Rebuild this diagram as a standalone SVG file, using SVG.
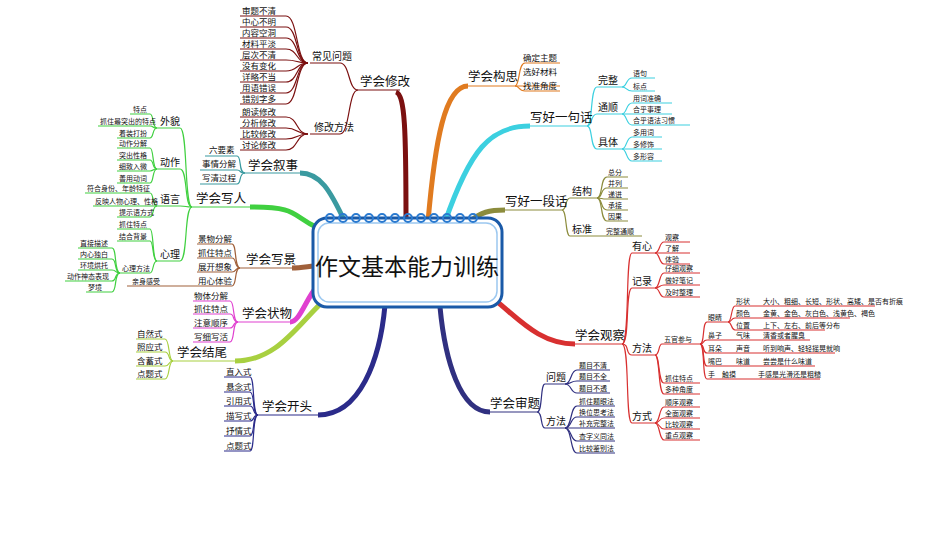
<svg xmlns="http://www.w3.org/2000/svg" width="950" height="535" viewBox="0 0 950 535">
<style>
text{font-family:"Noto Sans CJK SC","Noto Sans",sans-serif;fill:#111}
.l{font-size:8.5px}.t{font-size:7px}.s{font-size:10px}.m{font-size:12.5px}
path{fill:none;stroke-width:1.2}
.xg path{stroke:#7b1010}.gs path{stroke:#e07b20}.yj path{stroke:#3cd0e0}.yd path{stroke:#8c8c3c}
.gc path{stroke:#d83030}.sh path{stroke:#303080}.kt path{stroke:#2b2b8a}.jw path{stroke:#a8d040}
.zw path{stroke:#e040d0}.xj path{stroke:#a0603a}.xr path{stroke:#40d040}.xs path{stroke:#3a9aa0}
.th{stroke-width:5!important}
</style>
<rect width="950" height="535" fill="#fff"/>
<g id="connectors">
<g class="xg"><path class="th" d="M396,92 C405,95 406,130 406,222"/><path d="M358,90 H400"/>
<path d="M358,90 C348,90 350,63 340,63 H310"/><path d="M358,90 C348,90 350,134 340,134 H310"/>
<path d="M308,63 C296,63 298,16 286,16 H240"/><path d="M308,63 C296,63 298,27 286,27 H240"/><path d="M308,63 C296,63 298,38 286,38 H240"/><path d="M308,63 C296,63 298,49 286,49 H240"/><path d="M308,63 C296,63 298,60 286,60 H240"/><path d="M308,63 C296,63 298,71 286,71 H240"/><path d="M308,63 C296,63 298,82 286,82 H240"/><path d="M308,63 C296,63 298,93 286,93 H240"/><path d="M308,63 C296,63 298,104 286,104 H240"/>
<path d="M308,134 C296,134 298,117 286,117 H240"/><path d="M308,134 C296,134 298,128 286,128 H240"/><path d="M308,134 C296,134 298,139 286,139 H240"/><path d="M308,134 C296,134 298,150 286,150 H240"/></g>
<g class="gs"><path class="th" d="M428,222 C435,140 445,86 468,86"/><path d="M465,86 H515"/>
<path d="M515,86 C520,86 518,63 525,63 H560"/><path d="M515,86 H560"/><path d="M515,86 C520,86 518,91 525,91 H560"/></g>
<g class="yj"><path class="th" d="M445,222 C470,150 490,126 530,126"/><path d="M527,126 H587"/>
<path d="M587,126 C593,126 590,87 597,87 H622"/><path d="M587,126 C593,126 590,114 597,114 H622"/><path d="M587,126 C593,126 590,149 597,149 H622"/>
<path d="M622,87 C627,87 626,78 632,78 H655"/><path d="M622,87 C627,87 626,91 632,91 H655"/>
<path d="M622,114 C627,114 626,103 632,103 H672"/><path d="M622,114 H672"/><path d="M622,114 C627,114 626,125 632,125 H690"/>
<path d="M622,149 C627,149 626,137 632,137 H662"/><path d="M622,149 H662"/><path d="M622,149 C627,149 626,161 632,161 H662"/></g>
<g class="yd"><path class="th" d="M470,222 C480,212 490,210 505,210"/><path d="M503,210 H562"/>
<path d="M562,210 C567,210 565,198 570,198 H597"/><path d="M562,210 C567,210 565,236 570,236 H600"/>
<path d="M597,198 C603,198 600,177 607,177 H628"/><path d="M597,198 C603,198 600,188 607,188 H628"/><path d="M597,198 C603,198 600,199 607,199 H628"/><path d="M597,198 C603,198 600,210 607,210 H628"/><path d="M597,198 C603,198 600,221 607,221 H628"/><path d="M600,236 H642"/></g>
<g class="gc"><path class="th" d="M495,300 C520,320 540,344 575,344"/><path d="M572,344 H622"/>
<path d="M622,344 C630,344 625,253 632,253 H655"/><path d="M622,344 C630,344 625,288 632,288 H655"/><path d="M622,344 C630,344 625,355 632,355 H655"/><path d="M622,344 C630,344 625,423 632,423 H655"/>
<path d="M655,253 C660,253 659,242 664,242 H690"/><path d="M655,253 H690"/><path d="M655,253 C660,253 659,264 664,264 H690"/>
<path d="M655,288 C660,288 659,273 664,273 H700"/><path d="M655,288 C660,288 659,285 664,285 H700"/><path d="M655,288 C660,288 659,297 664,297 H700"/>
<path d="M655,355 C660,355 658,344 662,344 H700"/><path d="M655,355 C660,355 658,383 664,383 H700"/><path d="M655,355 C660,355 658,394 664,394 H700"/>
<path d="M700,344 C705,344 702,322 707,322 H728"/><path d="M700,344 C705,344 702,340 707,340 H755"/><path d="M700,344 C705,344 702,353 707,353 H755"/><path d="M700,344 C705,344 702,366 707,366 H755"/><path d="M700,344 C705,344 702,379 707,379 H745"/>
<path d="M728,322 C732,322 731,306 735,306 H760"/><path d="M728,322 C732,322 731,318 735,318 H760"/><path d="M728,322 C732,322 731,330 735,330 H760"/>
<path d="M760,306 H875"/><path d="M760,318 H850"/><path d="M760,330 H825"/><path d="M755,340 H810"/><path d="M755,353 H835"/><path d="M755,366 H815"/><path d="M745,379 H820"/>
<path d="M655,423 C660,423 659,407 664,407 H700"/><path d="M655,423 C660,423 659,418 664,418 H700"/><path d="M655,423 C660,423 659,429 664,429 H700"/><path d="M655,423 C660,423 659,440 664,440 H700"/></g>
<g class="sh"><path class="th" d="M440,307 C445,360 460,412 490,412"/><path d="M488,412 H537"/>
<path d="M537,412 C543,412 540,384 545,384 H565"/><path d="M537,412 C543,412 540,428 545,428 H565"/>
<path d="M565,384 C572,384 570,370 577,370 H610"/><path d="M565,384 C572,384 570,381 577,381 H610"/><path d="M565,384 C572,384 570,393 577,393 H610"/>
<path d="M565,428 C572,428 570,406 577,406 H615"/><path d="M565,428 C572,428 570,417 577,417 H615"/><path d="M565,428 H615"/><path d="M565,428 C572,428 570,441 577,441 H615"/><path d="M565,428 C572,428 570,453 577,453 H615"/></g>
<g class="kt"><path class="th" d="M385,305 C380,360 360,415 318,415"/><path d="M258,415 H320"/>
<path d="M258,415 C252,415 255,377 250,377 H224"/><path d="M258,415 C252,415 255,392 250,392 H224"/><path d="M258,415 C252,415 255,406 250,406 H224"/><path d="M258,415 C252,415 255,421 250,421 H224"/><path d="M258,415 C252,415 255,436 250,436 H224"/><path d="M258,415 C252,415 255,451 250,451 H224"/></g>
<g class="jw"><path class="th" d="M330,295 C300,320 280,361 235,361"/><path d="M173,361 H237"/>
<path d="M173,361 C168,361 170,339 165,339 H136"/><path d="M173,361 C168,361 170,352 165,352 H136"/><path d="M173,361 C168,361 170,366 165,366 H136"/><path d="M173,361 C168,361 170,379 165,379 H136"/></g>
<g class="zw"><path class="th" d="M318,285 C305,300 300,322 290,322"/><path d="M238,322 H292"/>
<path d="M238,322 C232,322 235,301 230,301 H193"/><path d="M238,322 C232,322 235,314 230,314 H193"/><path d="M238,322 C232,322 235,328 230,328 H193"/><path d="M238,322 C232,322 235,342 230,342 H193"/></g>
<g class="xj"><path class="th" d="M314,266 C305,267 300,268 292,268"/><path d="M240,268 H295"/>
<path d="M240,268 C234,268 237,244 232,244 H197"/><path d="M240,268 C234,268 237,258 232,258 H197"/><path d="M240,268 C234,268 237,272 232,272 H197"/><path d="M240,268 C234,268 237,286 232,286 H197"/><path d="M197,286 H127"/></g>
<g class="xr"><path class="th" d="M318,228 C290,215 300,207 250,207"/><path d="M192,207 H255"/>
<path d="M192,207 C184,207 188,128 180,128 H157"/><path d="M192,207 C184,207 188,169 180,169 H157"/><path d="M192,207 C184,207 188,206 180,206 H157"/><path d="M192,207 C184,207 188,261 180,261 H157"/>
<path d="M157,128 C152,128 154,114 150,114 H130"/><path d="M157,128 C152,128 154,126 150,126 H98"/><path d="M157,128 C152,128 154,138 150,138 H117"/>
<path d="M157,169 C152,169 154,148 150,148 H117"/><path d="M157,169 C152,169 154,160 150,160 H117"/><path d="M157,169 C152,169 154,171 150,171 H117"/><path d="M157,169 C152,169 154,183 150,183 H117"/>
<path d="M157,206 C152,206 154,193 150,193 H85"/><path d="M157,206 H93"/><path d="M157,206 C152,206 154,217 150,217 H117"/>
<path d="M157,261 C152,261 154,229 150,229 H117"/><path d="M157,261 C152,261 154,241 150,241 H117"/><path d="M157,261 C152,261 154,273 150,273 H120"/>
<path d="M120,273 C114,273 117,248 112,248 H78"/><path d="M120,273 C114,273 117,259 112,259 H78"/><path d="M120,273 C114,273 117,270 112,270 H78"/><path d="M120,273 C114,273 117,281 112,281 H65"/><path d="M120,273 C114,273 117,292 112,292 H86"/></g>
<g class="xs"><path class="th" d="M345,222 C330,190 320,173 300,173"/><path d="M245,173 H302"/>
<path d="M245,173 C238,173 242,156 237,156 H205"/><path d="M245,173 C238,173 242,170 237,170 H200"/><path d="M245,173 C238,173 242,184 237,184 H200"/></g>
</g>
<g id="center">
<rect x="313" y="218" width="189" height="89" rx="14" fill="#fff" stroke="#1a5aa8" stroke-width="3"/>
<rect x="318" y="223" width="179" height="79" rx="11" fill="none" stroke="#9cc8f0" stroke-width="1.5"/>
<g fill="none" stroke="#2a7ad0" stroke-width="2">
<circle cx="330" cy="218" r="4"/><circle cx="343" cy="218" r="4"/><circle cx="356" cy="218" r="4"/><circle cx="369" cy="218" r="4"/><circle cx="382" cy="218" r="4"/><circle cx="395" cy="218" r="4"/><circle cx="408" cy="218" r="4"/><circle cx="421" cy="218" r="4"/><circle cx="434" cy="218" r="4"/><circle cx="447" cy="218" r="4"/><circle cx="460" cy="218" r="4"/><circle cx="473" cy="218" r="4"/></g>
<text x="407" y="275" font-size="23" text-anchor="middle">作文基本能力训练</text>
</g>
<g id="xiugai"><text class="m" x="360" y="86">学会修改</text><text class="s" x="312" y="60">常见问题</text><text class="s" x="314" y="131">修改方法</text>
<g class="l"><text x="242" y="14">审题不清</text><text x="242" y="25">中心不明</text><text x="242" y="36">内容空洞</text><text x="242" y="47">材料平淡</text><text x="242" y="58">层次不清</text><text x="242" y="69">没有变化</text><text x="242" y="80">详略不当</text><text x="242" y="91">用语错误</text><text x="242" y="102">错别字多</text>
<text x="242" y="115">朗读修改</text><text x="242" y="126">分析修改</text><text x="242" y="137">比较修改</text><text x="242" y="148">讨论修改</text></g></g>
<g id="goushi"><text class="m" x="468" y="81">学会构思</text><text class="l" x="523" y="61">确定主题</text><text class="l" x="523" y="75">选好材料</text><text class="l" x="523" y="89">找准角度</text></g>
<g id="yiju"><text class="m" x="530" y="122">写好一句话</text><text class="s" x="598" y="84">完整</text><text class="s" x="598" y="111">通顺</text><text class="s" x="598" y="146">具体</text>
<text class="t" x="633" y="76">语句</text><text class="t" x="633" y="89">标点</text><text class="t" x="633" y="101">用词准确</text><text class="t" x="633" y="112">合乎事理</text><text class="t" x="633" y="123">合乎语法习惯</text><text class="t" x="633" y="135">多用词</text><text class="t" x="633" y="147">多修饰</text><text class="t" x="633" y="159">多形容</text></g>
<g id="yiduan"><text class="m" x="505" y="206">写好一段话</text><text class="s" x="572" y="195">结构</text><text class="s" x="572" y="233">标准</text>
<text class="t" x="608" y="175">总分</text><text class="t" x="608" y="186">并列</text><text class="t" x="608" y="197">递进</text><text class="t" x="608" y="208">承接</text><text class="t" x="608" y="219">因果</text><text class="t" x="606" y="234">完整通顺</text></g>
<g id="guancha"><text class="m" x="575" y="340">学会观察</text><text class="s" x="632" y="250">有心</text><text class="s" x="632" y="285">记录</text><text class="s" x="632" y="352">方法</text><text class="s" x="632" y="420">方式</text>
<g class="t"><text x="665" y="240">观察</text><text x="665" y="251">了解</text><text x="665" y="262">体验</text><text x="665" y="271">仔细观察</text><text x="665" y="283">做好笔记</text><text x="665" y="295">及时整理</text>
<text x="664" y="342">五官参与</text><text x="665" y="381">抓住特点</text><text x="665" y="392">多种角度</text>
<text x="708" y="320">眼睛</text><text x="708" y="338">鼻子</text><text x="708" y="351">耳朵</text><text x="708" y="364">嘴巴</text><text x="708" y="377">手</text>
<text x="736" y="304">形状</text><text x="736" y="316">颜色</text><text x="736" y="328">位置</text><text x="736" y="338">气味</text><text x="736" y="351">声音</text><text x="736" y="364">味道</text><text x="722" y="377">触摸</text>
<text x="763" y="304">大小、粗细、长短、形状、高矮、是否有折痕</text><text x="763" y="316">金黄、金色、灰白色、浅黄色、褐色</text><text x="763" y="328">上下、左右、前后等分布</text><text x="763" y="338">清香或者腥臭</text><text x="763" y="351">听到响声、轻轻摇晃就响</text><text x="763" y="364">尝尝是什么味道</text><text x="758" y="377">手感是光滑还是粗糙</text>
<text x="665" y="405">顺序观察</text><text x="665" y="416">全面观察</text><text x="665" y="427">比较观察</text><text x="665" y="438">重点观察</text></g></g>
<g id="shenti"><text class="m" x="490" y="408">学会审题</text><text class="s" x="546" y="381">问题</text><text class="s" x="546" y="425">方法</text>
<g class="t"><text x="579" y="368">题目不清</text><text x="579" y="379">题目不全</text><text x="579" y="391">题目不透</text><text x="579" y="404">抓住题眼法</text><text x="579" y="415">换位思考法</text><text x="579" y="426">补充完整法</text><text x="579" y="439">查字义同法</text><text x="579" y="451">比较鉴别法</text></g></g>
<g id="kaitou"><text class="m" x="262" y="411">学会开头</text><g class="l"><text x="226" y="375">直入式</text><text x="226" y="390">悬念式</text><text x="226" y="404">引用式</text><text x="226" y="419">描写式</text><text x="226" y="434">抒情式</text><text x="226" y="449">点题式</text></g></g>
<g id="jiewei"><text class="m" x="177" y="357">学会结尾</text><g class="l"><text x="137" y="337">自然式</text><text x="137" y="350">照应式</text><text x="137" y="364">含蓄式</text><text x="137" y="377">点题式</text></g></g>
<g id="zhuangwu"><text class="m" x="242" y="318">学会状物</text><g class="l"><text x="194" y="299">物体分解</text><text x="194" y="312">抓住特点</text><text x="194" y="326">注意顺序</text><text x="194" y="340">写细写活</text></g></g>
<g id="xiejing"><text class="m" x="246" y="264">学会写景</text><g class="l"><text x="198" y="242">景物分解</text><text x="198" y="256">抓住特点</text><text x="198" y="270">展开想象</text><text x="198" y="284">用心体验</text></g><text class="t" x="132" y="284">亲身感受</text></g>
<g id="xieren"><text class="m" x="196" y="203">学会写人</text><text class="s" x="160" y="125">外貌</text><text class="s" x="160" y="166">动作</text><text class="s" x="160" y="203">语言</text><text class="s" x="160" y="258">心理</text>
<g class="t"><text x="133" y="112">特点</text><text x="100" y="124">抓住最突出的特点</text><text x="119" y="136">着装打扮</text>
<text x="119" y="146">动作分解</text><text x="119" y="158">突出性格</text><text x="119" y="169">细致入微</text><text x="119" y="181">善用动词</text>
<text x="87" y="191">符合身份、年龄特征</text><text x="95" y="204">反映人物心理、性格</text><text x="119" y="215">提示语方式</text>
<text x="119" y="227">抓住特点</text><text x="119" y="239">结合背景</text><text x="122" y="271">心理方法</text>
<text x="80" y="246">直接描述</text><text x="80" y="257">内心独白</text><text x="80" y="268">环境烘托</text><text x="67" y="279">动作神态表现</text><text x="88" y="290">梦境</text></g></g>
<g id="xushi"><text class="m" x="248" y="170">学会叙事</text><g class="l"><text x="209" y="153">六要素</text><text x="202" y="167">事情分解</text><text x="202" y="181">写清过程</text></g></g>
</svg>
